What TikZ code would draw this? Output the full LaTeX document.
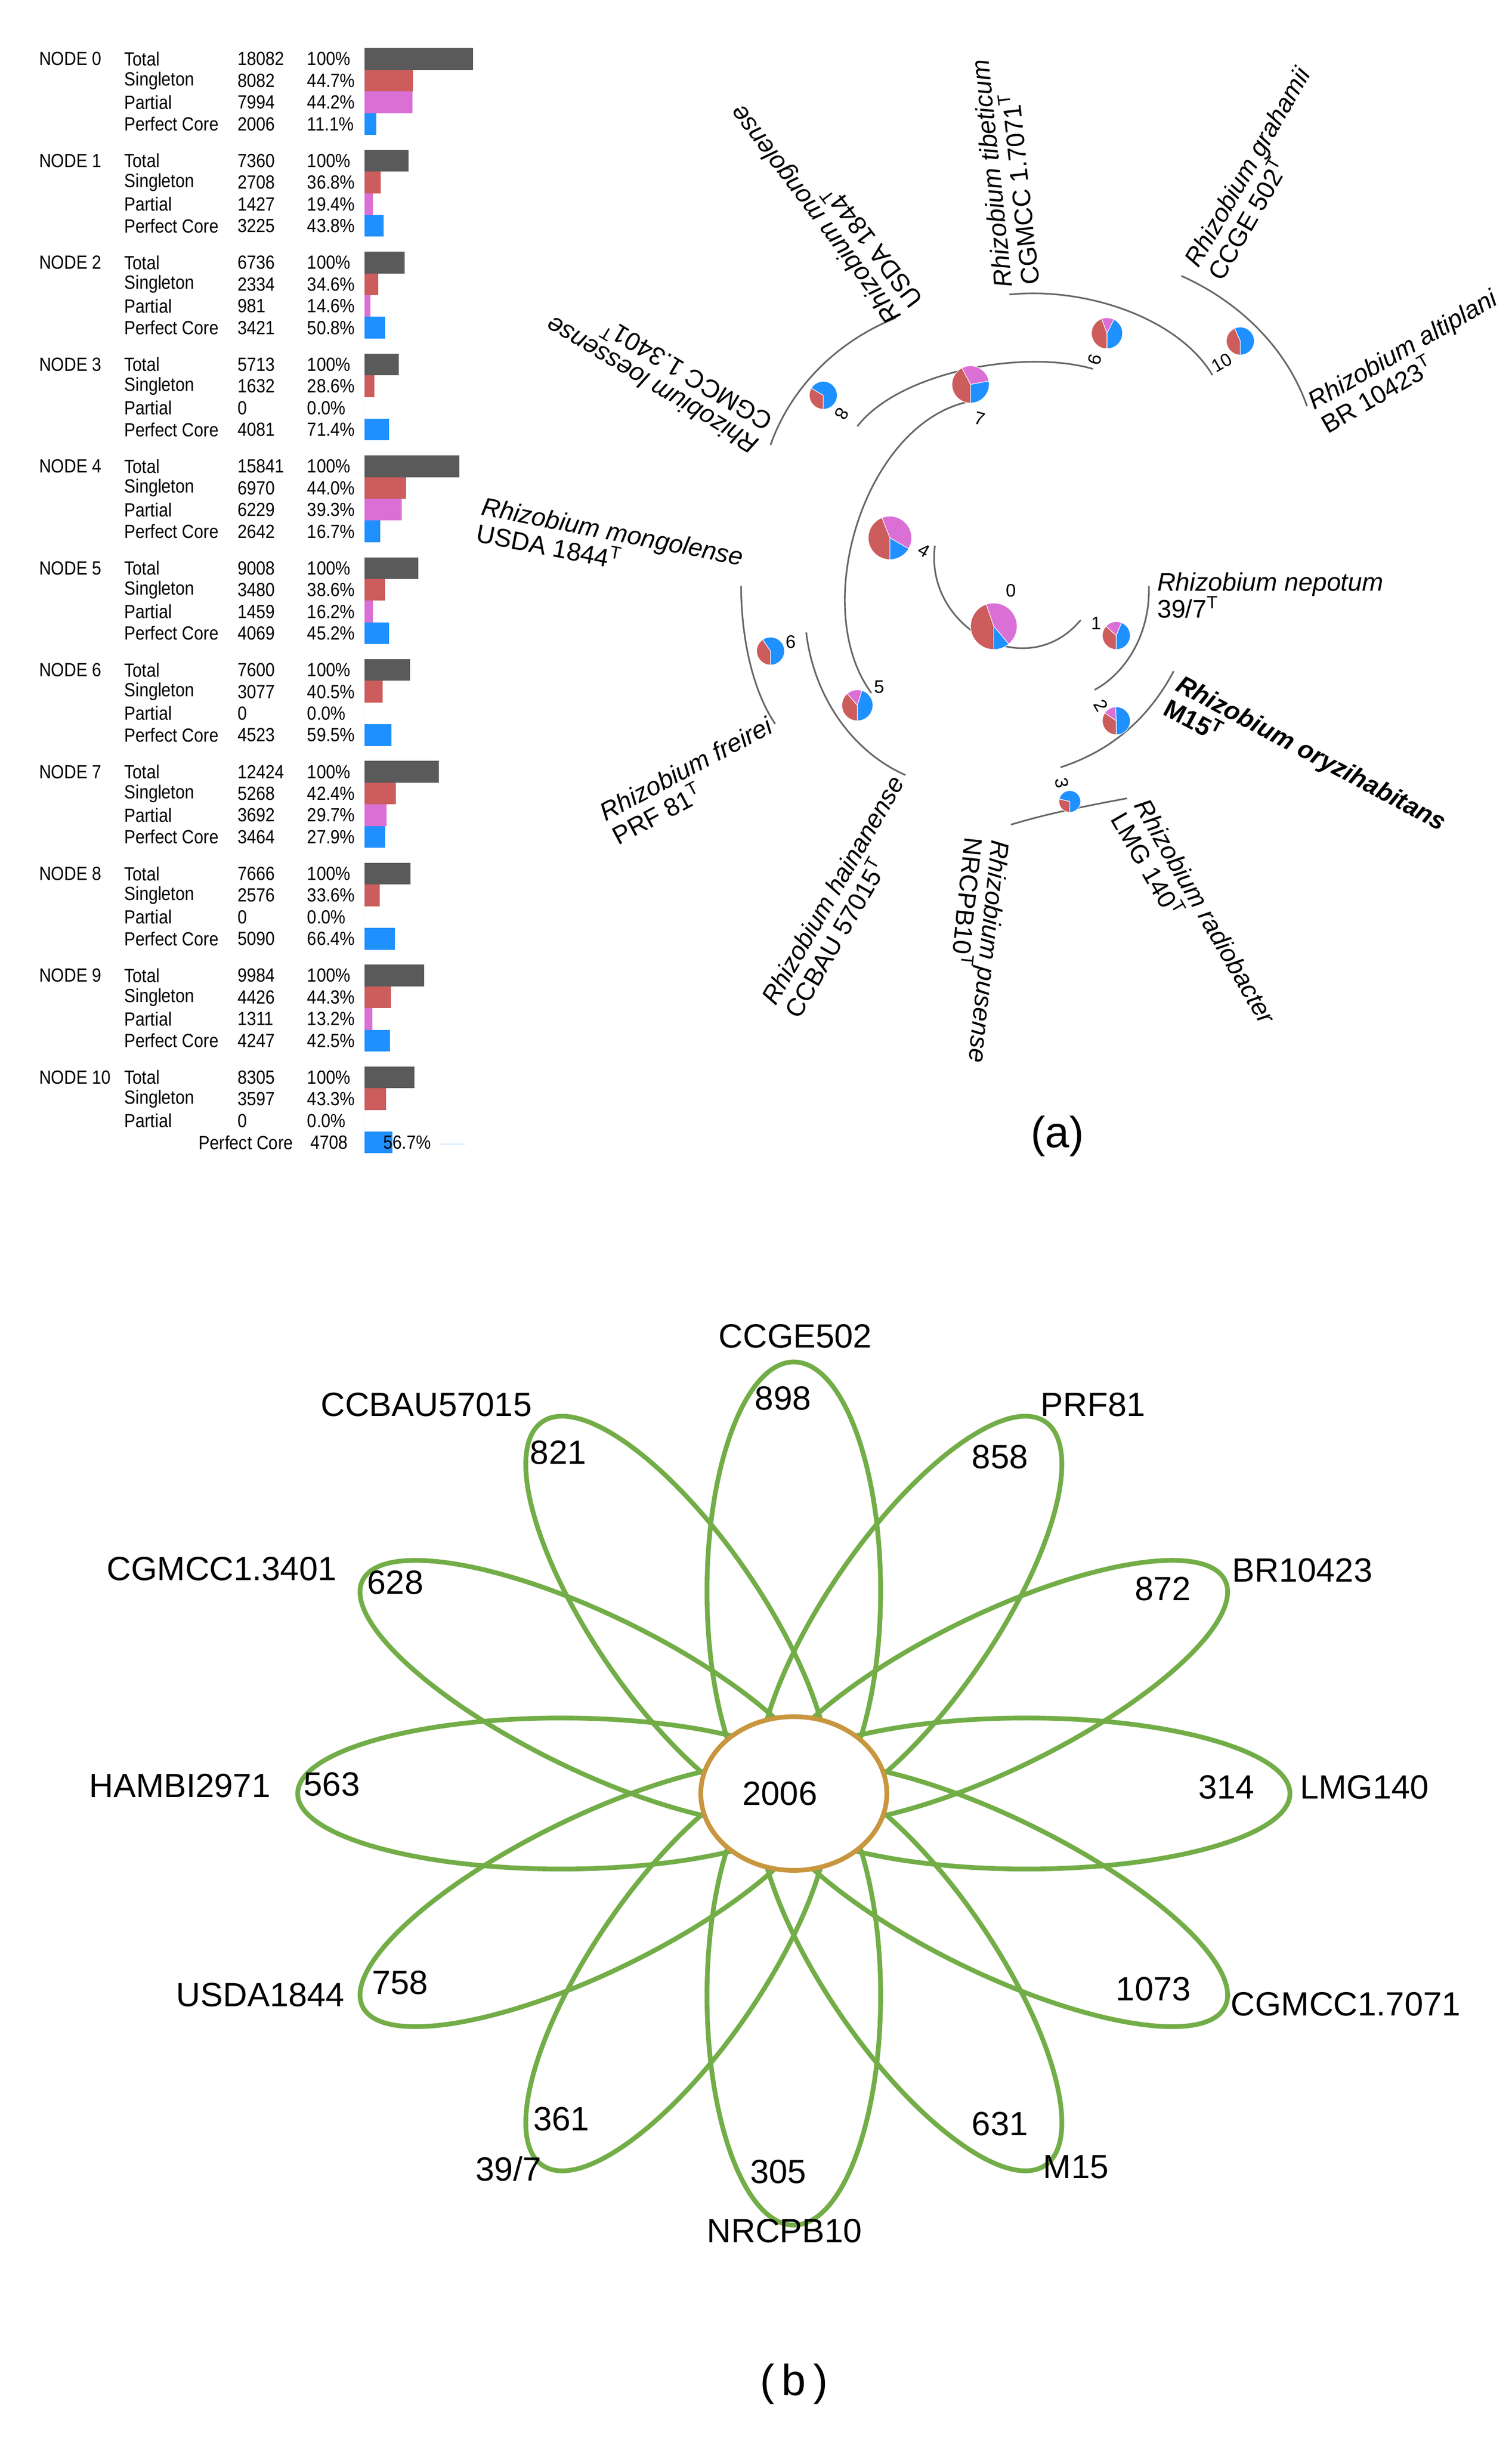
\documentclass[tikz,border=0pt]{standalone}
\usepackage{fontspec}
\setmainfont{Liberation Sans}
\newfontfamily\narrowf{Liberation Sans}[FakeStretch=0.88]
\definecolor{cS}{HTML}{CD5C5C}
\definecolor{cP}{HTML}{DA70D6}
\definecolor{cC}{HTML}{1E90FF}
\definecolor{cT}{HTML}{5A5A5A}
\definecolor{petal}{HTML}{72AD47}
\definecolor{core}{HTML}{C8963E}
\tikzset{
 tl/.style={anchor=west,inner sep=0pt,font=\narrowf\fontsize{10.5}{11}\selectfont},
 br/.style={gray!80!black,line width=0.9pt},
 lab/.style={inner sep=1pt,align=left,font=\fontsize{14}{15}\selectfont\itshape},
 pn/.style={inner sep=0pt,font=\fontsize{10}{11}\selectfont},
 pet/.style={petal,line width=2.6pt},
 vl/.style={font=\fontsize{18.5}{20}\selectfont,inner sep=0pt},
}
\newcommand\st[1]{\upshape #1\textsuperscript{T}}
\newcommand\bw[1]{{\the\numexpr#1*3871/10000\relax/100}}
\newcommand\trow[4]{% y, name, value, pct
 \node[tl] at (80,#1) {#2}; \node[tl] at (153,#1) {#3}; \node[tl] at (198,#1) {#4};}
\newcommand\tblock[8]{%
 \pgfmathsetmacro\yy{38+65.7*#1}
 \pgfmathsetmacro\yb{\yy+14}\pgfmathsetmacro\yc{\yy+28}\pgfmathsetmacro\yd{\yy+42}
 \node[tl] at (25,\yy) {NODE #1};
 \trow{\yy}{Total}{#2}{100\%}
 \trow{\yb}{Singleton}{#3}{#4}
 \trow{\yc}{Partial}{#5}{#6}
 \fill[cT] (235,\yy-7) rectangle ++(\bw{#2},14);
 \fill[cS] (235,\yb-7) rectangle ++(\bw{#3},14);
 \fill[cP] (235,\yc-7) rectangle ++(\bw{#5},14);
 \fill[cC] (235,\yd-7) rectangle ++(\bw{#7},14);
 \ifnum#1<10
 \trow{\yd}{Perfect Core}{#7}{#8}
 \else
 \node[tl] at (128,\yd) {Perfect Core}; \node[tl] at (200,\yd) {#7}; \node[tl] at (247,\yd) {#8};
 \draw[cC!40,line width=0.4pt] (284,\yd+1) -- (300,\yd+1);
 \fi}
\newcommand\mypie[7]{% name x y r s p c
 \coordinate (#1) at (#2,#3);
 \pgfmathsetmacro\pa{90+3.6*#5}\pgfmathsetmacro\pb{\pa+3.6*#6}
 \filldraw[fill=cS,draw=white,line width=0.3pt] (#1) -- ++(90:#4) arc[start angle=90,end angle=\pa,radius=#4] -- cycle;
 \filldraw[fill=cP,draw=white,line width=0.3pt] (#1) -- ++(\pa:#4) arc[start angle=\pa,end angle=\pb,radius=#4] -- cycle;
 \filldraw[fill=cC,draw=white,line width=0.3pt] (#1) -- ++(\pb:#4) arc[start angle=\pb,end angle=450,radius=#4] -- cycle;}
\begin{document}
\begin{tikzpicture}[x=0.03cm,y=-0.03cm]
\useasboundingbox[fill=white] (0,0) rectangle (975,1576);
% ---------- table ----------
\tblock{0}{18082}{8082}{44.7\%}{7994}{44.2\%}{2006}{11.1\%}
\tblock{1}{7360}{2708}{36.8\%}{1427}{19.4\%}{3225}{43.8\%}
\tblock{2}{6736}{2334}{34.6\%}{981}{14.6\%}{3421}{50.8\%}
\tblock{3}{5713}{1632}{28.6\%}{0}{0.0\%}{4081}{71.4\%}
\tblock{4}{15841}{6970}{44.0\%}{6229}{39.3\%}{2642}{16.7\%}
\tblock{5}{9008}{3480}{38.6\%}{1459}{16.2\%}{4069}{45.2\%}
\tblock{6}{7600}{3077}{40.5\%}{0}{0.0\%}{4523}{59.5\%}
\tblock{7}{12424}{5268}{42.4\%}{3692}{29.7\%}{3464}{27.9\%}
\tblock{8}{7666}{2576}{33.6\%}{0}{0.0\%}{5090}{66.4\%}
\tblock{9}{9984}{4426}{44.3\%}{1311}{13.2\%}{4247}{42.5\%}
\tblock{10}{8305}{3597}{43.3\%}{0}{0.0\%}{4708}{56.7\%}
% ---------- tree ----------
\coordinate (a4) at (603,352); \coordinate (a1) at (697,400);
\coordinate (a7) at (632,258); \coordinate (a5) at (562,447);
\coordinate (a8) at (553,275); \coordinate (a9) at (705,238);
\coordinate (lt) at (651,190); \coordinate (a10) at (782,242);
\coordinate (lg) at (762,178); \coordinate (la) at (843,262);
\coordinate (lm) at (578,205); \coordinate (ll) at (497,287);
\coordinate (a6) at (520,408); \coordinate (lh) at (584,500);
\coordinate (lm2) at (478,378); \coordinate (lf) at (500,467);
\coordinate (ln) at (741,378); \coordinate (a2) at (706,445);
\coordinate (lo) at (757,433); \coordinate (a3) at (684,495);
\coordinate (lp) at (652,532); \coordinate (lr) at (727,515);
\draw[br] (a4) .. controls (596,405) and (662,442) .. (a1);
\draw[br] (a7) .. controls (560,265) and (520,390) .. (a5);
\draw[br] (a8) .. controls (580,240) and (660,225) .. (a9);
\draw[br] (lt) .. controls (700,185) and (760,205) .. (a10);
\draw[br] (lg) .. controls (800,195) and (830,225) .. (la);
\draw[br] (lm) .. controls (540,220) and (510,250) .. (ll);
\draw[br] (a6) .. controls (525,450) and (550,485) .. (lh);
\draw[br] (lm2) .. controls (478,410) and (485,445) .. (lf);
\draw[br] (ln) .. controls (742,410) and (725,435) .. (a2);
\draw[br] (lo) .. controls (740,465) and (715,485) .. (a3);
\draw[br] (lp) .. controls (675,525) and (700,520) .. (lr);
\mypie{p0}{641}{404}{15}{44.7}{44.2}{11.1}
\mypie{p1}{720}{410}{9}{36.8}{19.4}{43.8}
\mypie{p2}{720}{465}{9}{34.6}{14.6}{50.8}
\mypie{p3}{690}{517}{7}{28.6}{0}{71.4}
\mypie{p4}{574}{347}{14}{44.0}{39.3}{16.7}
\mypie{p5}{553}{455}{10}{38.6}{16.2}{45.2}
\mypie{p6}{497}{420}{9}{40.5}{0}{59.5}
\mypie{p7}{626}{248}{12}{42.4}{29.7}{27.9}
\mypie{p8}{531}{255}{9}{33.6}{0}{66.4}
\mypie{p9}{714}{215}{10}{44.3}{13.2}{42.5}
\mypie{p10}{800}{220}{9}{43.3}{0}{56.7}
\node[pn] at (652,381) {0}; \node[pn] at (707,402) {1};
\node[pn,rotate=-60] at (710,455) {2}; \node[pn,rotate=-80] at (685,505) {3};
\node[pn,rotate=-30] at (596,355) {4}; \node[pn] at (567,443) {5};
\node[pn] at (510,414) {6}; \node[pn,rotate=-15] at (632,270) {7};
\node[pn,rotate=-120] at (543,267) {8}; \node[pn,rotate=-105] at (706,232) {9};
\node[pn,rotate=30] at (788,234) {10};
\node[lab,anchor=west] (tn) at (745,384) {Rhizobium nepotum\\\st{39/7}};
\node[lab,anchor=west,rotate=-28,font=\fontsize{14}{15}\selectfont\bfseries\itshape] (to) at (755,447) {Rhizobium oryzihabitans\\\upshape M15\textsuperscript{T}};
\node[lab,anchor=west,rotate=-60] (tr) at (728,520) {Rhizobium radiobacter\\\st{LMG 140}};
\node[lab,anchor=west,rotate=-96] (tp) at (637,540) {Rhizobium pusense\\\st{NRCPB10}};
\node[lab,anchor=east,rotate=60] (th) at (587,505) {Rhizobium hainanense\\\st{CCBAU 57015}};
\node[lab,anchor=east,rotate=28] (tf) at (502,474) {Rhizobium freirei\\\st{PRF 81}};
\node[lab,anchor=east,rotate=-11] (tm) at (479,368) {Rhizobium mongolense\\\st{USDA 1844}};
\node[lab,anchor=west,rotate=149] (tl2) at (493,282) {Rhizobium loessense\\\st{CGMCC 1.3401}};
\node[lab,anchor=west,rotate=127] (tm3) at (585,203) {Rhizobium mongolense\\\st{USDA 1844}};
\node[lab,anchor=west,rotate=96] (tt) at (656,186) {Rhizobium tibeticum\\\st{CGMCC 1.7071}};
\node[lab,anchor=west,rotate=60] (tg) at (775,176) {Rhizobium grahamii\\\st{CCGE 502}};
\node[lab,anchor=west,rotate=30] (ta) at (848,268) {Rhizobium altiplani\\\st{BR 10423}};
\node[font=\fontsize{24}{26}\selectfont] (la0) at (682,733) {(a)};
% ---------- venn ----------
\begin{scope}[shift={(512,1157)},yscale=0.87]
\foreach \a in {0,30,...,330} \draw[pet,rotate=\a] (150,0) ellipse [x radius=170,y radius=56];
\filldraw[fill=white,draw=core,line width=2.6pt] (0,0) ellipse [x radius=60,y radius=57];
\end{scope}
\node[vl] (c0) at (503,1157) {2006};
\node[vl] at (513,862) {CCGE502}; \node[vl] at (505,902) {898};
\node[vl] at (705,906) {PRF81}; \node[vl] at (645,940) {858};
\node[vl] at (840,1013) {BR10423}; \node[vl] at (750,1025) {872};
\node[vl] at (880,1153) {LMG140}; \node[vl] at (791,1153) {314};
\node[vl] at (868,1293) {CGMCC1.7071}; \node[vl] at (744,1283) {1073};
\node[vl] at (694,1398) {M15}; \node[vl] at (645,1370) {631};
\node[vl] at (506,1439) {NRCPB10}; \node[vl] at (502,1401) {305};
\node[vl] at (328,1399) {39/7}; \node[vl] at (362,1367) {361};
\node[vl] at (168,1287) {USDA1844}; \node[vl] at (258,1279) {758};
\node[vl] at (116,1152) {HAMBI2971}; \node[vl] at (214,1151) {563};
\node[vl] at (143,1012) {CGMCC1.3401}; \node[vl] at (255,1021) {628};
\node[vl] at (275,906) {CCBAU57015}; \node[vl] at (360,937) {821};
\node[font=\fontsize{24}{26}\selectfont] (lb0) at (512,1538) {(\,b\,)};
\end{tikzpicture}
\end{document}
